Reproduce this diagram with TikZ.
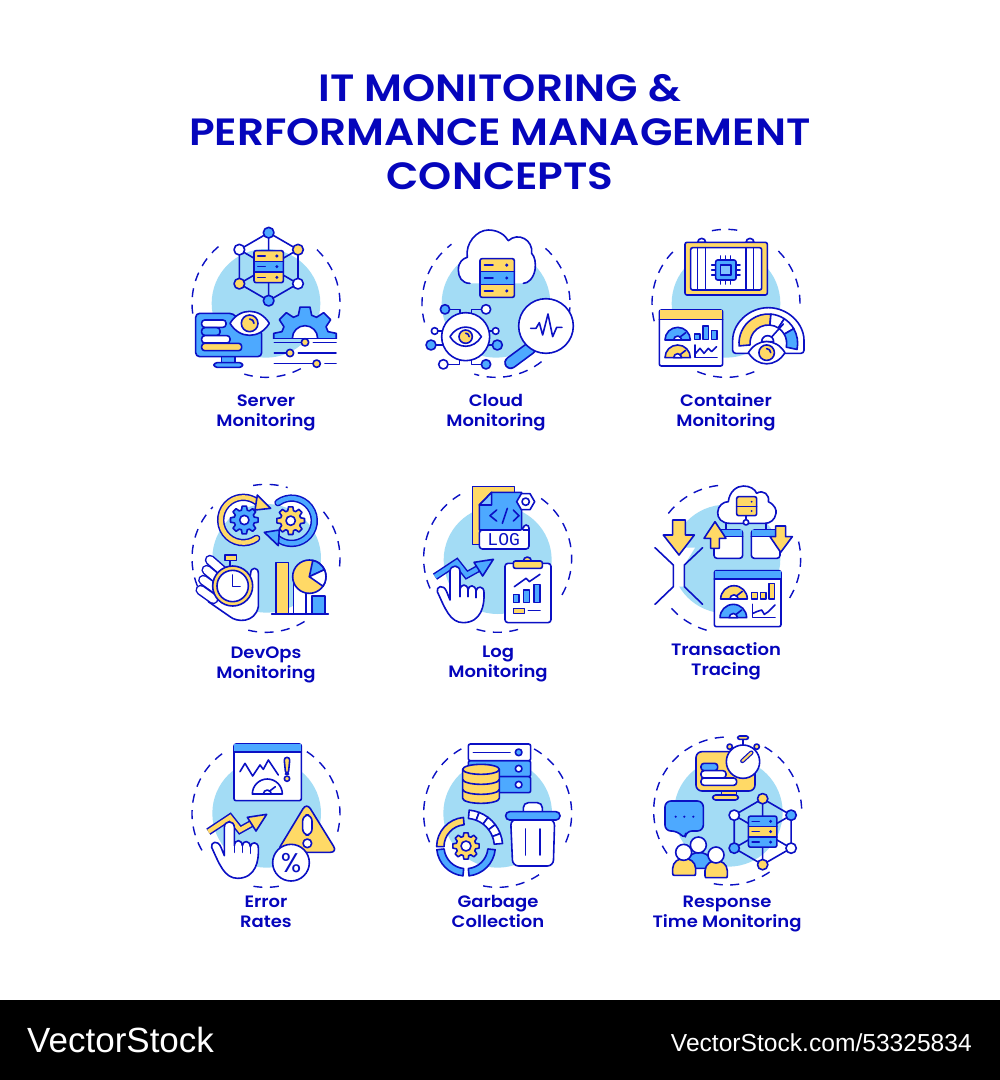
\documentclass[tikz,border=0pt]{standalone}
\usepackage{fontspec}
\setmainfont{Poppins}
\newfontfamily\semi[FakeStretch=1.09]{Poppins SemiBold}
\newfontfamily\semit[FakeStretch=1.11]{Poppins SemiBold}
\newfontfamily\foot{Liberation Sans}
\newfontfamily\mon{Liberation Mono}
\definecolor{nv}{HTML}{0B10C4}
\definecolor{tx}{HTML}{0505BC}
\definecolor{bl}{HTML}{4DA9FF}
\definecolor{yl}{HTML}{FFD966}
\definecolor{lb}{HTML}{A3DCF5}
\tikzset{
 ln/.style={draw=nv,line width=1.6pt,line join=round,line cap=round},
 ring/.style={draw=nv,line width=1.4pt,dash pattern=on 9pt off 7.5pt},
 zm/.style={shift={(#1)},x=0.33333pt,y=-0.33333pt},
 ttl/.style={text=tx,font=\semit\fontsize{38}{38}\selectfont,inner sep=0pt},
 lab/.style={text=tx,font=\semi\fontsize{16.5}{20}\selectfont,align=center,inner sep=0pt},
}
\newcommand\bgc[3]{\fill[lb] (#1,#2) circle[radius=#3];}
\newcommand\rarc[5]{\draw[ring] ({#1+#3*cos(#4)},{#2+#3*sin(#4)}) arc[start angle=#4,end angle=#5,radius=#3];}
\newcommand\srv[7]{\begin{scope}[shift={(#1,#2)}]
 \pgfmathsetmacro\rh{#4/3}\pgfmathsetmacro\wa{.13*#3}\pgfmathsetmacro\wb{.38*#3}\pgfmathsetmacro\wc{.78*#3}
 \fill[#5] (0,0) rectangle (#3,\rh);\fill[#6] (0,\rh) rectangle (#3,2*\rh);\fill[#7] (0,2*\rh) rectangle (#3,#4);
 \draw[ln,rounded corners=2pt] (0,0) rectangle (#3,#4);
 \draw[ln] (0,\rh) -- (#3,\rh) (0,2*\rh) -- (#3,2*\rh);
 \foreach \q in {.5,1.5,2.5}{\draw[ln] (\wa,\q*\rh) -- (\wb,\q*\rh);\fill[nv] (\wc,\q*\rh) circle[radius=5];}
\end{scope}}
\newcommand\hexn[9]{%
 \draw[ln] (0,-102) -- (88,-51) -- (88,51) -- (0,102) -- (-88,51) -- (-88,-51) -- cycle;
 \draw[ln] (0,-102) -- (0,102) (-88,-51) -- (88,51) (88,-51) -- (-88,51);
 \srv{-44}{-48}{88}{96}{#7}{#8}{#9}
 \draw[ln,fill=#1] (0,-102) circle[radius=16];\draw[ln,fill=#2] (88,-51) circle[radius=16];
 \draw[ln,fill=#3] (88,51) circle[radius=16];\draw[ln,fill=#4] (0,102) circle[radius=16];
 \draw[ln,fill=#5] (-88,51) circle[radius=16];\draw[ln,fill=#6] (-88,-51) circle[radius=16];}
\newcommand\eyeg[4]{\begin{scope}[shift={(#1,#2)},scale=#3]
 \draw[ln,fill=white] (-59,0) .. controls (-30,-48) and (30,-48) .. (59,0) .. controls (30,48) and (-30,48) .. (-59,0) -- cycle;
 \draw[ln,fill=#4] (0,0) circle[radius=25];
 \draw[ln] (0,-13) arc[start angle=270,end angle=360,radius=13];
\end{scope}}
\newcommand\gearg[7]{\begin{scope}[shift={(#1,#2)}]
 \pgfmathsetmacro\gs{360/#3}\pgfmathtruncatemacro\gn{#3-1}
 \draw[ln,fill=#7] ({-.36*\gs}:#5) \foreach \gi in {0,...,\gn}{ -- ({(\gi-.36)*\gs}:#5) -- ({(\gi-.2)*\gs}:#4) -- ({(\gi+.2)*\gs}:#4) -- ({(\gi+.36)*\gs}:#5)} -- cycle;
 \draw[ln,fill=white] (0,0) circle[radius=#6];
\end{scope}}
\newcommand\seg[7]{\draw[ln,fill=#7] ({#1+#3*cos(#5)},{#2+#3*sin(#5)}) arc[start angle=#5,end angle=#6,radius=#3] -- ({#1+#4*cos(#6)},{#2+#4*sin(#6)}) arc[start angle=#6,end angle=#5,radius=#4] -- cycle;}
\newcommand\dome[4]{\begin{scope}[shift={(#1,#2)},scale=#3]
 \draw[ln,fill=#4] (-38,0) arc[start angle=180,end angle=360,radius=38] -- cycle;
 \draw[ln,fill=white] (-12,0) arc[start angle=180,end angle=360,radius=12] -- cycle;
 \draw[ln] (6,-8) -- (24,-22);
\end{scope}}
\newcommand\pointhand{%
 \draw[ln,fill=white] (810,375) -- (810,290) .. controls (810,268) and (840,268) .. (840,290) -- (840,345) .. controls (842,325) and (862,325) .. (864,345) .. controls (866,328) and (886,328) .. (888,348) .. controls (890,332) and (912,332) .. (912,352) .. controls (914,390) and (905,442) .. (850,443) .. controls (810,443) and (795,400) .. (772,350) .. controls (768,335) and (790,325) .. (800,350) -- cycle;
 \draw[ln] (840,345) -- (840,365) (864,345) -- (864,365) (888,348) -- (888,368);}
\newcommand\zigz[1]{%
 \draw[nv,line width=7.4pt,line join=miter] (765,305) -- (830,262) -- (860,300) -- (905,275);
 \draw[#1,line width=4.4pt,line join=miter] (765,305) -- (830,262) -- (860,300) -- (905,275);
 \draw[ln,fill=#1] (882,262) -- (940,253) -- (908,303) -- cycle;}
\begin{document}
\begin{tikzpicture}[x=1pt,y=-1pt]
\useasboundingbox (0,0) rectangle (1000,1080);
\fill[white] (0,0) rectangle (1000,1080);
\fill[black] (0,1000) rectangle (1000,1080);
% title
\node[ttl] (t1) at (500,88) {IT MONITORING \&};
\node[ttl] (t2) at (500,132) {PERFORMANCE MANAGEMENT};
\node[ttl] (t3) at (500,176) {CONCEPTS};
% labels
\node[lab] (l1) at (266,413) {Server\\Monitoring};
\node[lab] (l2) at (496,413) {Cloud\\Monitoring};
\node[lab] (l3) at (726,412) {Container\\Monitoring};
\node[lab] (l4) at (266,665) {DevOps\\Monitoring};
\node[lab] (l5) at (498,664) {Log\\Monitoring};
\node[lab] (l6) at (726,661) {Transaction\\Tracing};
\node[lab] (l7) at (266,912) {Error\\Rates};
\node[lab] (l8) at (498,911) {Garbage\\Collection};
\node[lab] (l9) at (727,914) {Response\\Time Monitoring};
% footer
\node[text=white,font=\foot\fontsize{35}{35}\selectfont,anchor=west,inner sep=0pt] (f1) at (27,1040) {VectorStock};
\node[text=white,font=\foot\fontsize{24.6}{25}\selectfont,anchor=east,inner sep=0pt] (f2) at (972,1043) {VectorStock.com/53325834};

% ---------- row 1 left two
\begin{scope}[zm={180,220}]
 \bgc{258}{250}{163}
 \rarc{258}{250}{222}{-46.5}{13}\rarc{258}{250}{222}{62}{107}\rarc{258}{250}{222}{172}{233}
 \begin{scope}[shift={(266,140)}]\hexn{bl}{yl}{white}{bl}{yl}{white}{yl}{bl}{yl}\end{scope}
 % monitor
 \draw[ln,fill=bl] (125,408) rectangle (165,430);
 \draw[ln,fill=bl,rounded corners=3pt] (102,428) rectangle (188,442);
 \draw[ln,fill=bl,rounded corners=4pt] (160,280) -- (47,280) -- (47,410) -- (245,410) -- (245,330) -- (200,330) -- cycle;
 \draw[ln,fill=white,rounded corners=3pt] (65,300) rectangle (138,322);
 \draw[ln,fill=bl,rounded corners=3pt] (65,323) rectangle (120,346);
 \draw[ln,fill=white,rounded corners=3pt] (65,347) rectangle (150,369);
 \draw[ln,fill=yl,rounded corners=3pt] (65,370) rectangle (185,392);
 \eyeg{209}{310}{1}{yl}
 % gear
 \begin{scope}\clip (270,250) rectangle (480,355);\gearg{375}{355}{8}{95}{72}{38}{bl}\end{scope}
 \draw[ln] (283,355) -- (468,355);
 \fill[white] (423,356) rectangle (470,445);
 \draw[ln] (283,367) -- (365,367) (400,367) -- (468,367) (283,399) -- (318,399) (355,399) -- (468,399) (283,431) -- (398,431) (435,431) -- (468,431);
 \draw[ln,fill=yl] (375,367) circle[radius=11];\draw[ln,fill=yl] (330,399) circle[radius=11];\draw[ln,fill=yl] (410,431) circle[radius=11];
 % ---- cloud
 \bgc{948}{250}{163}
 \rarc{948}{250}{222}{-48}{7}\rarc{948}{250}{222}{52}{107}\rarc{948}{250}{222}{165}{233}
 \fill[white] (870,190) .. controls (845,190) and (835,170) .. (835,150) .. controls (835,125) and (850,115) .. (862,112) .. controls (855,70) and (890,30) .. (925,30) .. controls (955,30) and (975,45) .. (985,62) .. controls (1015,35) and (1060,60) .. (1055,100) .. controls (1065,110) and (1068,130) .. (1065,150) .. controls (1060,175) and (1045,190) .. (1030,190) -- cycle;
 \draw[ln] (870,190) .. controls (845,190) and (835,170) .. (835,150) .. controls (835,125) and (850,115) .. (862,112) .. controls (855,70) and (890,30) .. (925,30) .. controls (955,30) and (975,45) .. (985,62) .. controls (1015,35) and (1060,60) .. (1055,100) .. controls (1065,110) and (1068,130) .. (1065,150) .. controls (1060,175) and (1045,190) .. (1030,190);
 \srv{900}{116}{103}{116}{yl}{bl}{yl}
 \draw[ln] (795,268) -- (840,268) -- (840,290) (918,268) -- (875,268) -- (875,290) (764,333) -- (790,333) (947,333) -- (925,333) (753,375) -- (790,375) (952,375) -- (925,375) (790,433) -- (838,433) -- (838,415) (918,433) -- (875,433) -- (875,415);
 \draw[ln,fill=white] (857,350) circle[radius=72];
 \eyeg{857}{350}{.8}{yl}
 \draw[ln,fill=bl] (795,268) circle[radius=14];\draw[ln,fill=white] (918,268) circle[radius=14];
 \draw[ln,fill=white] (764,333) circle[radius=10];\draw[ln,fill=white] (947,333) circle[radius=10];
 \draw[ln,fill=bl] (753,375) circle[radius=15];\draw[ln,fill=bl] (952,375) circle[radius=15];
 \draw[ln,fill=white] (790,433) circle[radius=14];\draw[ln,fill=bl] (918,433) circle[radius=14];
 \draw[nv,line width=13pt,line cap=round] (1050,385) -- (992,428);
 \draw[bl,line width=9.6pt,line cap=round] (1050,385) -- (992,428);
 \draw[ln,fill=white] (1098,318) circle[radius=82];
 \draw[ln] (1052,325) -- (1068,325) -- (1078,308) -- (1088,345) -- (1104,282) -- (1118,350) -- (1130,322) -- (1146,322);
\end{scope}

% ---------- container
\begin{scope}[zm={580,220}]
 \bgc{438}{250}{163}
 \rarc{438}{250}{222}{-101}{-79}\rarc{438}{250}{222}{-45}{3}\rarc{438}{250}{222}{67.5}{114}\rarc{438}{250}{222}{166}{226}
 \draw[ln,fill=white] (353,67) arc[start angle=180,end angle=360,radius=12] -- cycle;
 \draw[ln,fill=white] (498,67) arc[start angle=180,end angle=360,radius=12] -- cycle;
 \draw[ln,fill=yl,rounded corners=2pt] (315,67) rectangle (562,225);
 \draw[ln,fill=white,rounded corners=2pt] (332,83) rectangle (545,210);
 \draw[ln] (352,83) -- (352,210) (376,83) -- (376,210) (498,83) -- (498,210) (520,83) -- (520,210);
 \draw[ln] (395,135) -- (480,135) (395,150) -- (480,150) (395,165) -- (480,165) (422,108) -- (422,192) (437,108) -- (437,192) (452,108) -- (452,192);
 \draw[ln,fill=bl,rounded corners=2pt] (407,120) rectangle (468,180);
 \draw[ln,fill=bl!70!white] (422,135) rectangle (453,165);
 % dashboard
 \draw[ln,fill=white,rounded corners=2pt] (238,270) rectangle (428,438);
 \fill[yl] (239,271) rectangle (427,298);\draw[ln] (238,298) -- (428,298);
 \dome{293}{360}{1}{bl}\dome{293}{413}{1}{yl}
 \draw[ln,fill=bl] (344,342) rectangle (360,358);\draw[ln,fill=bl] (369,318) rectangle (386,358);\draw[ln,fill=bl] (394,332) rectangle (411,358);
 \draw[ln] (345,375) -- (345,412) -- (411,412);
 \draw[ln] (347,400) -- (360,385) -- (372,400) -- (385,385) -- (395,395) -- (410,380);
 % big gauge
 \draw[ln,fill=white,rounded corners=3pt] (458,370) arc[start angle=180,end angle=360,radius=107] -- (672,400) -- (458,400) -- cycle;
 \seg{565}{370}{88}{55}{175}{275}{yl}
 \seg{565}{370}{88}{55}{275}{303}{white}
 \seg{565}{370}{88}{55}{303}{330}{white}
 \seg{565}{370}{88}{55}{330}{372}{bl}
 \draw[ln] (565,362) -- (610,312);
 \draw[ln,fill=white] (545,365) arc[start angle=180,end angle=360,radius=18] -- cycle;
 \eyeg{560}{398}{.93}{yl}
\end{scope}

% ---------- devops + log
\begin{scope}[zm={180,475}]
 \bgc{260}{250}{163}
 \rarc{258}{250}{222}{-100}{-73}\rarc{258}{250}{222}{-39}{9}\rarc{258}{250}{222}{58.6}{106.5}\rarc{258}{250}{222}{158}{224}
 % cycle arrows
 \draw[nv,line width=7.4pt,line cap=round] (230,190) arc[start angle=54,end angle=307,radius=68];
 \draw[yl,line width=4.4pt,line cap=round] (230,190) arc[start angle=54,end angle=307,radius=68];
 \draw[ln,fill=yl] (232,60) -- (272,100) -- (225,105) -- cycle;
 \draw[nv,line width=7.4pt,line cap=round] (294,83) arc[start angle=233,end angle=490,radius=68];
 \draw[bl,line width=4.4pt,line cap=round] (294,83) arc[start angle=233,end angle=490,radius=68];
 \draw[ln,fill=bl] (253,172) -- (298,165) -- (295,212) -- cycle;
 \gearg{193}{135}{8}{42}{31}{14}{bl}
 \gearg{332}{137}{8}{42}{31}{14}{yl}
 % hand + watch
 \draw[ln,fill=white] (85,380) -- (150,425) .. controls (170,442) and (225,445) .. (235,395) -- (235,295) .. controls (235,275) and (212,275) .. (212,295) -- (205,330) -- (120,300) -- cycle;
 \foreach \xa/\ya/\xb/\yb in {90/255/130/290,80/285/110/310,70/315/105/340,62/345/100/372}{
  \draw[nv,line width=10.5pt,line cap=round] (\xa,\ya) -- (\xb,\yb);
  \draw[white,line width=7.5pt,line cap=round] (\xa,\ya) -- (\xb,\yb);}
 \draw[ln] (150,257) -- (150,275);
 \draw[ln,fill=yl] (135,240) rectangle (170,257);
 \draw[ln,fill=yl] (158,333) circle[radius=60];
 \draw[ln,fill=white] (158,333) circle[radius=47];
 \draw[ln] (158,300) -- (158,335) -- (180,335);
 % bars
 \draw[ln,fill=yl] (288,262) rectangle (325,417);
 \draw[ln,fill=white] (340,300) rectangle (378,417);
 \draw[ln,fill=bl] (396,363) rectangle (435,417);
 \draw[ln] (275,417) -- (445,417);
 \draw[ln,fill=yl] (388,305) circle[radius=50];
 \seg{388}{305}{50}{0}{-78}{-25}{bl}
 \seg{388}{305}{50}{0}{-25}{35}{white}
 % ---- log
 \bgc{953}{255}{162}
 \rarc{953}{250}{222}{-54}{31.6}\rarc{953}{250}{222}{74}{110}\rarc{953}{250}{222}{156}{244}
 \draw[ln,fill=yl] (878,35) -- (1003,35) -- (1003,120) -- (1003,208) -- (878,208) -- cycle;
 \draw[ln,fill=bl] (898,90) -- (935,52) -- (1025,52) -- (1025,165) -- (898,165) -- cycle;
 \draw[ln,fill=bl!70!white] (898,90) -- (935,90) -- (935,52) -- cycle;
 \draw[ln,fill=white,rounded corners=3pt] (898,165) -- (1030,165) -- (1030,150) -- (1047,150) -- (1047,222) -- (898,222) -- cycle;
 \draw[ln] (1030,165) -- (1047,165);
 \node[text=nv,font=\mon\fontsize{18}{18}\selectfont,inner sep=0pt] (logt) at (971,194) {LOG};
 \draw[ln] (950,105) -- (930,122) -- (950,138) (1000,105) -- (1017,122) -- (1000,138) (982,100) -- (967,145);
 \draw[ln,fill=white] (1064,80) -- (1050,104) -- (1024,104) -- (1010,80) -- (1024,56) -- (1050,56) -- cycle;
 \draw[ln] (1037,80) circle[radius=11];
 \zigz{bl}
 \pointhand
 \draw[ln,fill=white,rounded corners=3pt] (975,265) rectangle (1113,443);
 \draw[ln,fill=yl] (1030,258) arc[start angle=180,end angle=360,radius=12] -- cycle;
 \draw[ln,fill=yl,rounded corners=2pt] (1000,258) rectangle (1087,280);
 \draw[ln,fill=bl] (1000,358) rectangle (1017,383);\draw[ln,fill=bl] (1031,345) rectangle (1048,383);\draw[ln,fill=bl] (1062,328) rectangle (1080,383);
 \draw[ln] (1003,335) -- (1038,310) -- (1048,320) -- (1080,298);
 \draw[ln,fill=yl] (1000,400) rectangle (1033,415);
 \draw[ln] (1045,407) -- (1080,407);
\end{scope}

% ---------- transaction
\begin{scope}[zm={580,475}]
 \bgc{438}{252}{163}
 \rarc{440}{252}{222}{218}{265}\rarc{440}{252}{222}{-13.6}{34}\rarc{440}{252}{222}{105.7}{139}
 \fill[white] (275,218) -- (345,218) -- (313,270) -- (313,335) -- (280,335) -- (270,218) -- cycle;
 \draw[ln] (225,218) -- (280,270) -- (280,335) -- (225,388) (368,218) -- (313,270) -- (313,335) -- (368,388);
 \draw[ln,fill=yl] (278,135) -- (316,135) -- (316,180) -- (343,180) -- (297,240) -- (250,180) -- (278,180) -- cycle;
 \draw[ln] (438,165) -- (438,142) -- (558,142) -- (558,165);
 \draw[ln,fill=white] (450,145) .. controls (425,145) and (412,130) .. (413,112) .. controls (414,92) and (430,80) .. (445,80) .. controls (448,50) and (470,33) .. (490,33) .. controls (510,33) and (525,42) .. (530,55) .. controls (550,42) and (570,60) .. (565,80) .. controls (585,90) and (590,105) .. (588,115) .. controls (585,135) and (570,145) .. (555,145) -- cycle;
 \draw[ln,fill=yl,rounded corners=2pt] (470,65) rectangle (530,122);
 \draw[ln] (470,94) -- (530,94);
 \fill[nv] (515,80) circle[radius=3];\fill[nv] (515,108) circle[radius=3];
 \draw[ln] (498,122) -- (498,134);
 \draw[ln,fill=white] (498,142) circle[radius=8];
 \foreach \bx in {402,514}{
  \draw[ln,fill=white,rounded corners=3pt] (\bx,165) rectangle ({\bx+86},250);
  \fill[bl] ({\bx+1},166) rectangle ({\bx+85},185);
  \draw[ln] (\bx,185) -- ({\bx+86},185);}
 \draw[ln,fill=yl] (405,140) -- (438,190) -- (418,190) -- (418,220) -- (392,220) -- (392,190) -- (372,190) -- cycle;
 \draw[ln,fill=yl] (587,153) -- (617,153) -- (617,185) -- (637,185) -- (602,232) -- (570,185) -- (587,185) -- cycle;
 \draw[ln,fill=white,rounded corners=2pt] (403,287) rectangle (603,455);
 \fill[bl] (404,288) rectangle (602,312);\draw[ln] (403,312) -- (603,312);
 \dome{462}{372}{1.05}{yl}\dome{460}{428}{1.05}{bl}
 \draw[ln,fill=yl] (515,353) rectangle (532,372);\draw[ln,fill=yl] (541,353) rectangle (558,372);\draw[ln,fill=yl] (567,325) rectangle (584,372);
 \draw[ln] (517,388) -- (517,428) -- (585,428);
 \draw[ln] (519,415) -- (530,410) -- (545,405) -- (553,418) -- (565,410) -- (585,390);
\end{scope}

% ---------- error + garbage
\begin{scope}[zm={180,730}]
 \bgc{260}{250}{163}
 \rarc{258}{250}{222}{-56.5}{15}\rarc{258}{250}{222}{80}{103}\rarc{258}{250}{222}{150}{237}
 \draw[ln,fill=white,rounded corners=2pt] (162,42) rectangle (364,212);
 \fill[bl] (163,43) rectangle (363,66);\draw[ln] (162,66) -- (364,66);
 \draw[ln] (180,125) -- (195,100) -- (218,138) -- (240,105) -- (250,118) -- (265,90) -- (295,135);
 \draw[ln,fill=yl,rounded corners=3pt] (312,82) -- (330,82) -- (325,132) -- (317,132) -- cycle;
 \draw[ln,fill=yl] (321,146) circle[radius=8];
 \draw[ln,fill=white] (217,192) arc[start angle=180,end angle=360,radius=45] -- cycle;
 \draw[ln,fill=white] (250,192) arc[start angle=180,end angle=360,radius=12] -- cycle;
 \draw[ln] (268,184) -- (286,170);
 \begin{scope}[shift={(-680,0)}]\zigz{yl}\end{scope}
 \begin{scope}[shift={(-677,2)}]\pointhand\end{scope}
 \draw[ln,fill=yl,rounded corners=7pt] (380,218) -- (472,367) -- (290,367) -- cycle;
 \draw[ln,fill=white,rounded corners=6pt] (368,255) rectangle (396,315);
 \draw[ln,fill=white] (382,340) circle[radius=13];
 \draw[ln,fill=white] (333,398) circle[radius=55];
 \node[text=nv,font=\fontsize{27}{27}\selectfont,inner sep=0pt] (pct) at (333,398) {\%};
 % ---- garbage
 \bgc{953}{250}{163}
 \rarc{953}{250}{222}{-60.5}{25.7}\rarc{953}{250}{222}{56}{105.6}\rarc{953}{250}{222}{157}{244}
 \draw[ln,fill=bl,rounded corners=2pt] (865,92) rectangle (1052,140);
 \draw[ln,fill=bl,rounded corners=2pt] (865,140) rectangle (1052,188);
 \draw[ln,fill=white,rounded corners=2pt] (865,42) rectangle (1052,92);
 \draw[ln] (880,67) -- (990,67);
 \draw[ln,fill=bl] (1016,67) circle[radius=10];\draw[ln,fill=white] (1016,116) circle[radius=10];\draw[ln,fill=white] (1016,164) circle[radius=10];
 \draw[ln,fill=yl] (848,118) -- (848,205) arc[start angle=180,end angle=0,x radius=55,y radius=15] -- (958,118) -- cycle;
 \draw[ln,fill=yl] (903,118) ellipse[x radius=55,y radius=15];
 \draw[ln] (848,148) arc[start angle=180,end angle=0,x radius=55,y radius=15] (848,178) arc[start angle=180,end angle=0,x radius=55,y radius=15];
 \seg{858}{350}{88}{66}{180}{265}{yl}
 \seg{858}{350}{88}{66}{96}{174}{bl}
 \seg{858}{350}{88}{66}{6}{84}{bl}
 \seg{858}{350}{110}{85}{275}{291}{white}
 \seg{858}{350}{110}{85}{291}{307}{white}
 \seg{858}{350}{110}{85}{307}{323}{white}
 \seg{858}{350}{110}{85}{323}{339}{white}
 \seg{858}{350}{110}{85}{339}{355}{white}
 \gearg{858}{348}{8}{40}{30}{15}{yl}
 \draw[ln,fill=white,rounded corners=5pt] (1030,250) -- (1030,218) -- (1087,218) -- (1087,250);
 \draw[ln,fill=white,rounded corners=6pt] (992,268) -- (998,408) -- (1120,408) -- (1124,268) -- cycle;
 \draw[ln,fill=bl,rounded corners=4pt] (977,245) rectangle (1140,270);
 \draw[ln] (1036,297) -- (1036,375) (1080,297) -- (1080,375);
\end{scope}

% ---------- response
\begin{scope}[zm={580,730}]
 \bgc{445}{247}{163}
 \rarc{443}{243}{222}{-60}{0.5}\rarc{443}{243}{222}{55.5}{102.5}\rarc{443}{243}{222}{145}{270}
 \draw[ln,fill=yl] (425,183) rectangle (470,197);
 \draw[ln,fill=yl,rounded corners=3pt] (398,195) rectangle (475,210);
 \draw[ln,fill=yl,rounded corners=6pt] (348,65) rectangle (525,183);
 \draw[ln,fill=bl,rounded corners=3pt] (363,100) rectangle (413,122);
 \draw[ln,fill=white,rounded corners=3pt] (363,122) rectangle (438,144);
 \draw[ln,fill=white,rounded corners=3pt] (363,144) rectangle (470,166);
 \draw[ln] (489,28) -- (489,48);
 \draw[ln,fill=yl,rounded corners=2pt] (473,18) rectangle (505,28);
 \draw[ln,fill=yl] (449,50) circle[radius=8];\draw[ln,fill=yl] (530,50) circle[radius=8];
 \draw[ln,fill=white] (489,95) circle[radius=50];
 \draw[nv,line width=4.4pt,line cap=round] (487,93) -- (514,68);
 \draw[yl,line width=2pt,line cap=round] (487,93) -- (514,68);
 \begin{scope}[shift={(548,305)},scale=.97]\hexn{yl}{bl}{white}{yl}{bl}{white}{bl}{yl}{bl}\end{scope}
 \draw[ln,fill=bl,rounded corners=6pt] (255,213) -- (370,213) -- (370,303) -- (318,303) -- (315,328) -- (293,303) -- (255,303) -- cycle;
 \fill[nv] (287,260) circle[radius=3.5];\fill[nv] (313,260) circle[radius=3.5];\fill[nv] (340,260) circle[radius=3.5];
 \draw[ln,fill=bl] (325,415) -- (325,390) .. controls (328,360) and (385,360) .. (392,390) -- (392,415) -- cycle;
 \draw[ln,fill=white] (355,345) circle[radius=24];
 \draw[ln,fill=yl] (278,430) -- (278,415) .. controls (280,375) and (345,375) .. (347,415) -- (347,430) .. controls (347,436) and (345,436) .. (342,436) -- (284,436) .. controls (280,436) and (278,436) .. (278,430) -- cycle;
 \draw[ln,fill=white] (311,367) circle[radius=24];
 \draw[ln,fill=yl] (375,437) -- (375,422) .. controls (378,382) and (440,382) .. (442,422) -- (442,437) .. controls (442,443) and (440,443) .. (437,443) -- (380,443) .. controls (377,443) and (375,443) .. (375,437) -- cycle;
 \draw[ln,fill=white] (408,375) circle[radius=24];
\end{scope}
\end{tikzpicture}
\end{document}
